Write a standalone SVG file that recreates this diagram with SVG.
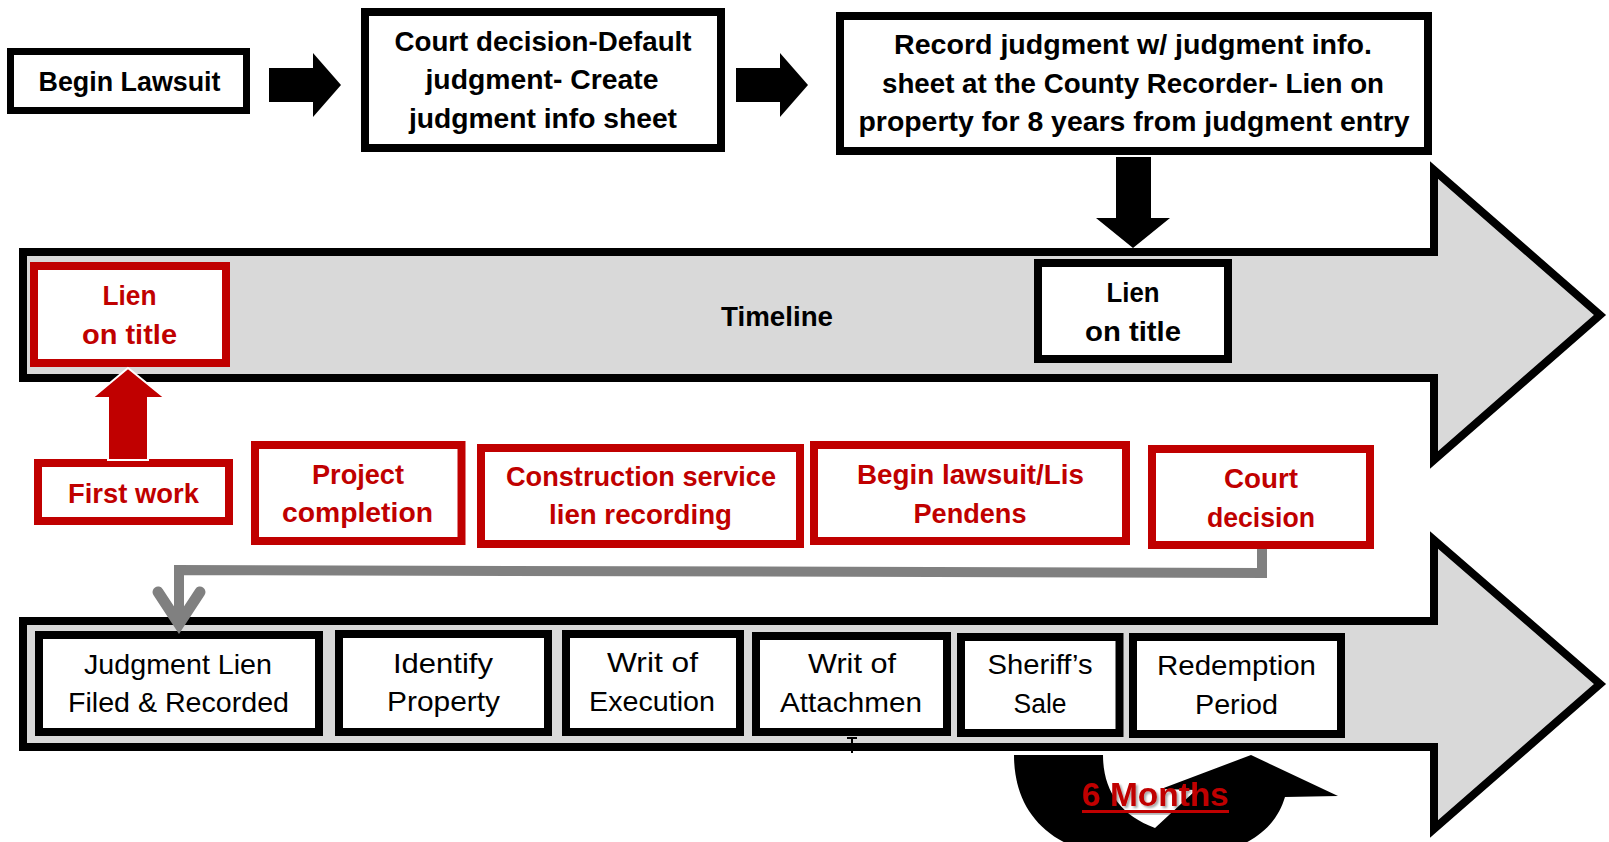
<svg xmlns="http://www.w3.org/2000/svg" width="1609" height="842" viewBox="0 0 1609 842">
<style>
.bk{fill:#fff;stroke:#000;stroke-width:8}
.br{fill:#fff;stroke:#c00000;stroke-width:8}
.big{fill:#d9d9d9;stroke:#000;stroke-width:8;stroke-linejoin:miter;stroke-miterlimit:10}
.t{font-family:"Liberation Sans",Arial,sans-serif;font-size:28px;text-anchor:middle;fill:#000}
.b{font-weight:bold}
.red{fill:#c00000}
.solid{fill:#000}
</style>
<defs>
<filter id="sh" x="-10%" y="-20%" width="130%" height="160%"><feDropShadow dx="2" dy="2" stdDeviation="1.2" flood-color="#000" flood-opacity="0.35"/></filter>
</defs>
<rect width="1609" height="842" fill="#fff"/>

<!-- Top row -->
<g id="begin-lawsuit">
<rect x="10.5" y="51.5" width="236" height="59" fill="#fff" stroke="#000" stroke-width="7"/>
<text class="t b" x="129.5" y="91" textLength="182" lengthAdjust="spacingAndGlyphs">Begin Lawsuit</text>
</g>
<g id="court-decision-default">
<rect class="bk" x="365" y="12" width="356" height="136"/>
<text class="t b" x="543" y="51" textLength="297" lengthAdjust="spacingAndGlyphs">Court decision-Default</text>
<text class="t b" x="542" y="89" textLength="233" lengthAdjust="spacingAndGlyphs">judgment- Create</text>
<text class="t b" x="543" y="128" textLength="268" lengthAdjust="spacingAndGlyphs">judgment info sheet</text>
</g>
<g id="record-judgment">
<rect class="bk" x="840" y="16" width="588" height="135"/>
<text class="t b" x="1133" y="54" textLength="478" lengthAdjust="spacingAndGlyphs">Record judgment w/ judgment info.</text>
<text class="t b" x="1133" y="93" textLength="502" lengthAdjust="spacingAndGlyphs">sheet at the County Recorder- Lien on</text>
<text class="t b" x="1134" y="131" textLength="551" lengthAdjust="spacingAndGlyphs">property for 8 years from judgment entry</text>
</g>

<!-- Timeline arrow 1 -->
<g id="timeline-arrow">
<polygon class="big" points="23,252 1434,252 1434,170 1600,315 1434,460 1434,378 23,378"/>
<text class="t b" x="777" y="326" textLength="112" lengthAdjust="spacingAndGlyphs">Timeline</text>
</g>
<g id="lien-on-title-red">
<rect class="br" x="34" y="266" width="192" height="97"/>
<text class="t b red" x="129.5" y="305" textLength="54" lengthAdjust="spacingAndGlyphs">Lien</text>
<text class="t b red" x="129.5" y="344" textLength="95" lengthAdjust="spacingAndGlyphs">on title</text>
</g>
<g id="lien-on-title-black">
<rect class="bk" x="1038" y="263" width="190" height="96"/>
<text class="t b" x="1133" y="302" textLength="53" lengthAdjust="spacingAndGlyphs">Lien</text>
<text class="t b" x="1133" y="341" textLength="96" lengthAdjust="spacingAndGlyphs">on title</text>
</g>

<!-- Red boxes -->
<g id="first-work">
<rect class="br" x="38" y="463" width="191" height="58"/>
<text class="t b red" x="133.5" y="503" textLength="131" lengthAdjust="spacingAndGlyphs">First work</text>
</g>
<g id="project-completion">
<rect class="br" x="255" y="445" width="206.5" height="96"/>
<text class="t b red" x="358" y="484" textLength="92" lengthAdjust="spacingAndGlyphs">Project</text>
<text class="t b red" x="357.5" y="522" textLength="151" lengthAdjust="spacingAndGlyphs">completion</text>
</g>
<g id="construction-lien">
<rect class="br" x="481" y="448" width="319" height="96"/>
<text class="t b red" x="641" y="486" textLength="270" lengthAdjust="spacingAndGlyphs">Construction service</text>
<text class="t b red" x="640.5" y="524" textLength="183" lengthAdjust="spacingAndGlyphs">lien recording</text>
</g>
<g id="begin-lawsuit-lis">
<rect class="br" x="814" y="445" width="312" height="96"/>
<text class="t b red" x="970.5" y="484" textLength="227" lengthAdjust="spacingAndGlyphs">Begin lawsuit/Lis</text>
<text class="t b red" x="970" y="523" textLength="113" lengthAdjust="spacingAndGlyphs">Pendens</text>
</g>
<g id="court-decision">
<rect class="br" x="1152" y="449" width="218" height="96"/>
<text class="t b red" x="1261" y="488" textLength="74" lengthAdjust="spacingAndGlyphs">Court</text>
<text class="t b red" x="1261" y="527" textLength="108" lengthAdjust="spacingAndGlyphs">decision</text>
</g>

<!-- Timeline arrow 2 -->
<g id="process-arrow">
<polygon class="big" points="23,621 1434,621 1434,540 1600,684 1434,829 1434,747 23,747"/>
</g>
<g id="judgment-lien">
<rect class="bk" x="39" y="635" width="280" height="97"/>
<text class="t" x="178" y="674" textLength="188" lengthAdjust="spacingAndGlyphs">Judgment Lien</text>
<text class="t" x="178.5" y="712" textLength="221" lengthAdjust="spacingAndGlyphs">Filed &amp; Recorded</text>
</g>
<g id="identify-property">
<rect class="bk" x="339" y="634" width="209" height="98"/>
<text class="t" x="443" y="673" textLength="100" lengthAdjust="spacingAndGlyphs">Identify</text>
<text class="t" x="443.5" y="711" textLength="113" lengthAdjust="spacingAndGlyphs">Property</text>
</g>
<g id="writ-execution">
<rect class="bk" x="566" y="634" width="174" height="98"/>
<text class="t" x="652.5" y="672" textLength="91" lengthAdjust="spacingAndGlyphs">Writ of</text>
<text class="t" x="652" y="711" textLength="126" lengthAdjust="spacingAndGlyphs">Execution</text>
</g>
<g id="writ-attachment">
<rect class="bk" x="756" y="636" width="191" height="96"/>
<text class="t" x="852" y="673" textLength="88" lengthAdjust="spacingAndGlyphs">Writ of</text>
<text class="t" x="851" y="712" textLength="142" lengthAdjust="spacingAndGlyphs">Attachmen</text>
</g>
<g id="sheriffs-sale">
<rect class="bk" x="961" y="637" width="158.5" height="96"/>
<text class="t" x="1040" y="674" textLength="105" lengthAdjust="spacingAndGlyphs">Sheriff’s</text>
<text class="t" x="1040" y="713" textLength="53" lengthAdjust="spacingAndGlyphs">Sale</text>
</g>
<g id="redemption-period">
<rect class="bk" x="1133" y="637" width="208" height="97"/>
<text class="t" x="1236.5" y="675" textLength="159" lengthAdjust="spacingAndGlyphs">Redemption</text>
<text class="t" x="1236.5" y="714" textLength="83" lengthAdjust="spacingAndGlyphs">Period</text>
</g>

<!-- Connectors -->
<g id="connectors">
<polygon class="solid" points="269,68 313,68 313,53 341,85 313,117 313,102 269,102"/>
<polygon class="solid" points="736,68 780,68 780,53 808,85 780,117 780,102 736,102"/>
<polygon class="solid" points="1116,157 1151,157 1151,218 1170,218 1133,248 1096,218 1116,218"/>
<polygon fill="#c00000" stroke="#fff" stroke-width="2" points="128,368 165,398 148,398 148,460 108,460 108,398 92,398"/>
<path d="M1262,549 L1262,573 L179,570 L179,622" fill="none" stroke="#808080" stroke-width="10"/>
<path d="M158,592 L179,624 L200,592" fill="none" stroke="#808080" stroke-width="11" stroke-linecap="round" stroke-linejoin="miter" stroke-miterlimit="10"/>
<path d="M852,738 L852,753 M847,738 L857,738" fill="none" stroke="#000" stroke-width="2"/>
<path d="M1014,755 L1103,755 C1103,790 1120,815 1155,828 L1196,790 L1161,789 L1251,755 L1338,796 L1285,797 C1275,830 1245,860 1150,860 C1060,860 1014,820 1014,755 Z" fill="#000"/>
</g>

<g id="six-months">
<text class="t b red" x="1155.5" y="806" style="font-size:33px" filter="url(#sh)" textLength="147" lengthAdjust="spacingAndGlyphs">6 Months</text>
<rect x="1082" y="810" width="147" height="3" fill="#c00000" filter="url(#sh)"/>
</g>
</svg>
